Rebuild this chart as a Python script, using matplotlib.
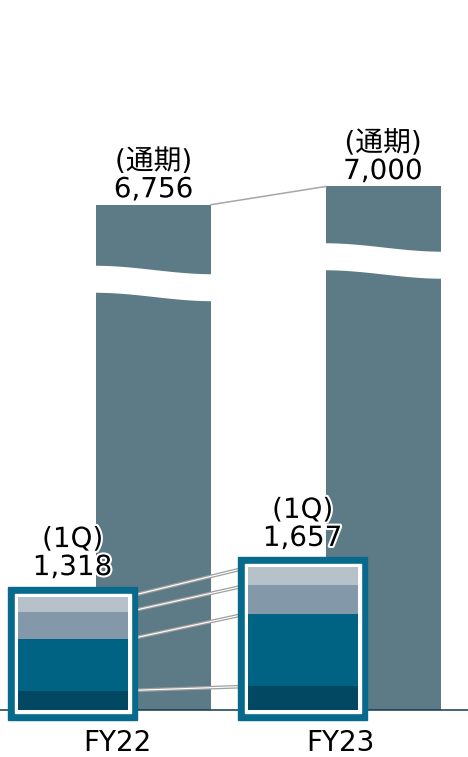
import numpy as np
import matplotlib.pyplot as plt
import matplotlib.patheffects as pe
from matplotlib.patches import Rectangle

plt.rcParams['font.family'] = ['DejaVu Sans', 'Noto Sans CJK JP']

years = ['FY22', 'FY23']
full_year = [6756, 7000]
first_q = [1318, 1657]
# 1Q breakdown, bottom to top
q1_dark = [226, 274]
q1_teal = [594, 846]
q1_grayblue = [321, 331]
q1_light = [177, 206]

PX = 13.37    # y units per pixel
ZOOM = 1.15   # 1Q inset is drawn a little magnified

fig = plt.figure(figsize=(4.68, 7.57), dpi=100)
ax = fig.add_axes([0, 47 / 757, 1, 710 / 757])
ax.set_xlim(0, 468)
ax.set_ylim(0, 710 * PX)

bar_x = [153.5, 383]
ins_x = [72.5, 302.5]
tick_x = [117, 340]
halo = [pe.withStroke(linewidth=3, foreground='white')]

# full-year bars
ax.bar(bar_x, full_year, width=115, color='#5C7B87', zorder=1)

# wavy axis break
for x, mid in zip(bar_x, [5709, 6010]):
    xs = np.linspace(x - 60, x + 60, 120)
    t = (xs - xs[0]) / (xs[-1] - xs[0])
    curve = mid + 4.25 * PX - 8.5 * PX * (1 - np.cos(np.pi * t)) / 2
    ax.fill_between(xs, curve - 13.5 * PX, curve + 13.5 * PX, color='white',
                    lw=0, zorder=1.5)

ax.plot([bar_x[0] + 57.5, bar_x[1] - 57], full_year, color='#A6A6A6',
        lw=1.1, zorder=2)

# 1Q stacked insets
stack = [q1_dark, q1_teal, q1_grayblue, q1_light]
colors = ['#024862', '#006383', '#8399A9', '#B7C1CA']
bottoms = np.zeros(2)
bounds = []
for vals, c in zip(stack, colors):
    h = np.array(vals) * ZOOM
    ax.bar(ins_x, h, width=110, bottom=bottoms, color=c, zorder=5, clip_on=False)
    bottoms = bottoms + h
    bounds.append(bottoms.copy())

for i in range(2):
    x0 = ins_x[i] - 55
    ax.add_patch(Rectangle((x0 - 9.5, -9.5 * PX), 129, bottoms[i] + 19.5 * PX,
                           color='#07698B', zorder=4, clip_on=False))
    ax.add_patch(Rectangle((x0 - 3, -3 * PX), 116, bottoms[i] + 6 * PX,
                           color='white', zorder=4.5, clip_on=False))

# connectors between segment boundaries
for b in bounds:
    xx = [ins_x[0] + 55, ins_x[1] - 55]
    ax.plot(xx, b, color='#A0A0A0', lw=2.6, zorder=3, solid_capstyle='butt')
    ax.plot(xx, b, color='white', lw=0.8, zorder=3.1, solid_capstyle='butt')

# labels
for x, v in zip(bar_x, full_year):
    ax.annotate('(通期)\n{:,}'.format(v), xy=(x, v), xytext=(0, 1),
                textcoords='offset points', ha='center', va='bottom',
                fontsize=20, linespacing=1.0, path_effects=halo)
for x, top, v in zip(ins_x, bottoms, first_q):
    ax.annotate('(1Q)\n{:,}'.format(v), xy=(x, top + 10 * PX), xytext=(0, 4),
                textcoords='offset points', ha='center', va='bottom',
                fontsize=20, linespacing=1.0, path_effects=halo, zorder=6)

ax.set_xticks(tick_x, years, fontsize=20)
ax.tick_params(axis='x', length=0, pad=14)
ax.set_yticks([])
for s in ['top', 'left', 'right']:
    ax.spines[s].set_visible(False)
ax.spines['bottom'].set_color('#0E3A4E')
ax.spines['bottom'].set_linewidth(1.1)

fig.savefig('out.png', dpi=100)
